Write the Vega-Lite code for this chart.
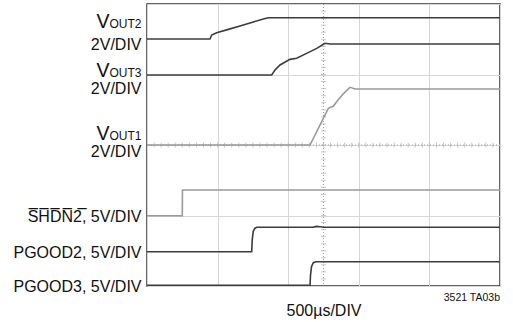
{
  "$schema": "https://vega.github.io/schema/vega-lite/v6.json",
  "width": 353,
  "height": 282,
  "autosize": {"type": "none"},
  "padding": {"left": 147, "top": 4, "right": 13, "bottom": 36},
  "background": "white",
  "config": {
    "font": "Liberation Sans",
    "view": {"stroke": "#333333", "strokeWidth": 1.5}
  },
  "datasets": {
    "traces": [
      {"trace": "VOUT2", "t": 0, "v": 7.007},
      {"trace": "VOUT2", "t": 892, "v": 7.007},
      {"trace": "VOUT2", "t": 916, "v": 7.12},
      {"trace": "VOUT2", "t": 987, "v": 7.186},
      {"trace": "VOUT2", "t": 1152, "v": 7.28},
      {"trace": "VOUT2", "t": 1317, "v": 7.376},
      {"trace": "VOUT2", "t": 1506, "v": 7.49},
      {"trace": "VOUT2", "t": 1647, "v": 7.574},
      {"trace": "VOUT2", "t": 1718, "v": 7.61},
      {"trace": "VOUT2", "t": 5000, "v": 7.61},
      {"trace": "VOUT3", "t": 0, "v": 5.986},
      {"trace": "VOUT3", "t": 1766, "v": 5.986},
      {"trace": "VOUT3", "t": 1813, "v": 6.128},
      {"trace": "VOUT3", "t": 1884, "v": 6.27},
      {"trace": "VOUT3", "t": 2025, "v": 6.43},
      {"trace": "VOUT3", "t": 2120, "v": 6.46},
      {"trace": "VOUT3", "t": 2261, "v": 6.6},
      {"trace": "VOUT3", "t": 2404, "v": 6.74},
      {"trace": "VOUT3", "t": 2521, "v": 6.885},
      {"trace": "VOUT3", "t": 2592, "v": 6.865},
      {"trace": "VOUT3", "t": 5000, "v": 6.865},
      {"trace": "VOUT1", "t": 0, "v": 4.0},
      {"trace": "VOUT1", "t": 2309, "v": 4.0},
      {"trace": "VOUT1", "t": 2497, "v": 4.757},
      {"trace": "VOUT1", "t": 2568, "v": 5.04},
      {"trace": "VOUT1", "t": 2600, "v": 5.07},
      {"trace": "VOUT1", "t": 2639, "v": 5.1},
      {"trace": "VOUT1", "t": 2705, "v": 5.277},
      {"trace": "VOUT1", "t": 2780, "v": 5.45},
      {"trace": "VOUT1", "t": 2875, "v": 5.637},
      {"trace": "VOUT1", "t": 2950, "v": 5.59},
      {"trace": "VOUT1", "t": 5000, "v": 5.589},
      {"trace": "SHDN2", "t": 0, "v": 1.994},
      {"trace": "SHDN2", "t": 500, "v": 1.994},
      {"trace": "SHDN2", "t": 502, "v": 2.723},
      {"trace": "SHDN2", "t": 5000, "v": 2.723},
      {"trace": "PGOOD2", "t": 0, "v": 0.973},
      {"trace": "PGOOD2", "t": 1483, "v": 0.973},
      {"trace": "PGOOD2", "t": 1490, "v": 1.3},
      {"trace": "PGOOD2", "t": 1505, "v": 1.55},
      {"trace": "PGOOD2", "t": 1530, "v": 1.64},
      {"trace": "PGOOD2", "t": 1554, "v": 1.665},
      {"trace": "PGOOD2", "t": 2350, "v": 1.665},
      {"trace": "PGOOD2", "t": 2400, "v": 1.69},
      {"trace": "PGOOD2", "t": 2450, "v": 1.68},
      {"trace": "PGOOD2", "t": 2500, "v": 1.665},
      {"trace": "PGOOD2", "t": 5000, "v": 1.665},
      {"trace": "PGOOD3", "t": 0, "v": 0.02},
      {"trace": "PGOOD3", "t": 2309, "v": 0.02},
      {"trace": "PGOOD3", "t": 2316, "v": 0.3},
      {"trace": "PGOOD3", "t": 2330, "v": 0.55},
      {"trace": "PGOOD3", "t": 2355, "v": 0.66},
      {"trace": "PGOOD3", "t": 2394, "v": 0.689},
      {"trace": "PGOOD3", "t": 5000, "v": 0.689}
    ],
    "hticks": [
      {"t": 100}, {"t": 200}, {"t": 300}, {"t": 400}, {"t": 500}, {"t": 600}, {"t": 700}, {"t": 800}, {"t": 900}, {"t": 1000},
      {"t": 1100}, {"t": 1200}, {"t": 1300}, {"t": 1400}, {"t": 1500}, {"t": 1600}, {"t": 1700}, {"t": 1800}, {"t": 1900}, {"t": 2000},
      {"t": 2100}, {"t": 2200}, {"t": 2300}, {"t": 2400}, {"t": 2500}, {"t": 2600}, {"t": 2700}, {"t": 2800}, {"t": 2900}, {"t": 3000},
      {"t": 3100}, {"t": 3200}, {"t": 3300}, {"t": 3400}, {"t": 3500}, {"t": 3600}, {"t": 3700}, {"t": 3800}, {"t": 3900}, {"t": 4000},
      {"t": 4100}, {"t": 4200}, {"t": 4300}, {"t": 4400}, {"t": 4500}, {"t": 4600}, {"t": 4700}, {"t": 4800}, {"t": 4900}
    ],
    "vticks": [
      {"v": 0.2}, {"v": 0.4}, {"v": 0.6}, {"v": 0.8}, {"v": 1}, {"v": 1.2}, {"v": 1.4}, {"v": 1.6}, {"v": 1.8}, {"v": 2},
      {"v": 2.2}, {"v": 2.4}, {"v": 2.6}, {"v": 2.8}, {"v": 3}, {"v": 3.2}, {"v": 3.4}, {"v": 3.6}, {"v": 3.8}, {"v": 4},
      {"v": 4.2}, {"v": 4.4}, {"v": 4.6}, {"v": 4.8}, {"v": 5}, {"v": 5.2}, {"v": 5.4}, {"v": 5.6}, {"v": 5.8}, {"v": 6},
      {"v": 6.2}, {"v": 6.4}, {"v": 6.6}, {"v": 6.8}, {"v": 7}, {"v": 7.2}, {"v": 7.4}, {"v": 7.6}, {"v": 7.8}
    ],
    "labels": [
      {"kind": "big", "text": "V", "y": 7.319},
      {"kind": "sub", "text": "OUT2", "y": 7.319},
      {"kind": "main", "text": "2V/DIV", "y": 6.709},
      {"kind": "big", "text": "V", "y": 5.929},
      {"kind": "sub", "text": "OUT3", "y": 5.929},
      {"kind": "main", "text": "2V/DIV", "y": 5.447},
      {"kind": "big", "text": "V", "y": 4.142},
      {"kind": "sub", "text": "OUT1", "y": 4.142},
      {"kind": "main", "text": "2V/DIV", "y": 3.66},
      {"kind": "main", "text": "S\u0305H\u0305D\u0305N\u03052\u0305, 5V/DIV", "y": 1.824},
      {"kind": "main", "text": "PGOOD2, 5V/DIV", "y": 0.786},
      {"kind": "main", "text": "PGOOD3, 5V/DIV", "y": -0.162}
    ]
  },
  "layer": [
    {
      "data": {"name": "traces"},
      "mark": {"type": "line", "strokeWidth": 0, "opacity": 0},
      "encoding": {
        "x": {
          "field": "t", "type": "quantitative",
          "scale": {"domain": [0, 5000], "nice": false, "zero": false},
          "axis": {
            "values": [0, 500, 1000, 1500, 2000, 2500, 3000, 3500, 4000, 4500, 5000],
            "grid": true, "gridColor": "#d6d6d6", "gridWidth": 1,
            "labels": false, "ticks": false, "domain": false,
            "title": "500µs/DIV", "titleFontSize": 16, "titleFontWeight": "normal",
            "titleColor": "#111111", "titlePadding": 16, "titleFont": "Liberation Sans"
          }
        },
        "y": {
          "field": "v", "type": "quantitative",
          "scale": {"domain": [0, 8], "nice": false, "zero": false},
          "axis": {
            "values": [0, 1, 2, 3, 4, 5, 6, 7, 8],
            "grid": true, "gridColor": "#d6d6d6", "gridWidth": 1,
            "labels": false, "ticks": false, "domain": false, "title": null
          }
        },
        "detail": {"field": "trace"}
      }
    },
    {
      "data": {"values": [{}]},
      "mark": {"type": "rule", "color": "#a0a0a0", "strokeWidth": 1, "strokeDash": [1, 2]},
      "encoding": {"x": {"datum": 2500, "type": "quantitative"}}
    },
    {
      "data": {"values": [{}]},
      "mark": {"type": "rule", "color": "#a0a0a0", "strokeWidth": 1, "strokeDash": [1, 2]},
      "encoding": {"y": {"datum": 4, "type": "quantitative"}}
    },
    {
      "data": {"name": "hticks"},
      "mark": {"type": "tick", "orient": "vertical", "size": 5, "thickness": 1, "color": "#b0b0b0"},
      "encoding": {
        "x": {"field": "t", "type": "quantitative"},
        "y": {"datum": 4, "type": "quantitative"}
      }
    },
    {
      "data": {"name": "vticks"},
      "mark": {"type": "tick", "orient": "horizontal", "size": 5, "thickness": 1, "color": "#b0b0b0"},
      "encoding": {
        "y": {"field": "v", "type": "quantitative"},
        "x": {"datum": 2500, "type": "quantitative"}
      }
    },
    {
      "data": {"name": "traces"},
      "mark": {"type": "line", "strokeWidth": 1.6, "interpolate": "linear"},
      "encoding": {
        "x": {"field": "t", "type": "quantitative"},
        "y": {"field": "v", "type": "quantitative"},
        "color": {
          "field": "trace", "type": "nominal",
          "scale": {
            "domain": ["VOUT2", "VOUT3", "VOUT1", "SHDN2", "PGOOD2", "PGOOD3"],
            "range": ["#3c3c3c", "#3c3c3c", "#9a9a9a", "#9a9a9a", "#3c3c3c", "#3c3c3c"]
          },
          "legend": null
        }
      }
    },
    {
      "data": {"name": "labels"},
      "transform": [{"filter": "datum.kind === 'main'"}],
      "mark": {"type": "text", "align": "right", "baseline": "alphabetic", "fontSize": 16, "dx": -5.5, "color": "#111111"},
      "encoding": {
        "x": {"datum": 0, "type": "quantitative"},
        "y": {"field": "y", "type": "quantitative"},
        "text": {"field": "text"}
      }
    },
    {
      "data": {"name": "labels"},
      "transform": [{"filter": "datum.kind === 'sub'"}],
      "mark": {"type": "text", "align": "right", "baseline": "alphabetic", "fontSize": 12, "dx": -5.5, "color": "#111111"},
      "encoding": {
        "x": {"datum": 0, "type": "quantitative"},
        "y": {"field": "y", "type": "quantitative"},
        "text": {"field": "text"}
      }
    },
    {
      "data": {"name": "labels"},
      "transform": [{"filter": "datum.kind === 'big'"}],
      "mark": {"type": "text", "align": "right", "baseline": "alphabetic", "fontSize": 19.5, "dx": -37.5, "color": "#111111"},
      "encoding": {
        "x": {"datum": 0, "type": "quantitative"},
        "y": {"field": "y", "type": "quantitative"},
        "text": {"field": "text"}
      }
    },
    {
      "data": {"values": [{"note": "3521 TA03b"}]},
      "mark": {"type": "text", "align": "right", "baseline": "alphabetic", "fontSize": 10.5, "color": "#111111"},
      "encoding": {
        "x": {"datum": 5000, "type": "quantitative"},
        "y": {"datum": -0.426, "type": "quantitative"},
        "text": {"field": "note"}
      }
    }
  ]
}
